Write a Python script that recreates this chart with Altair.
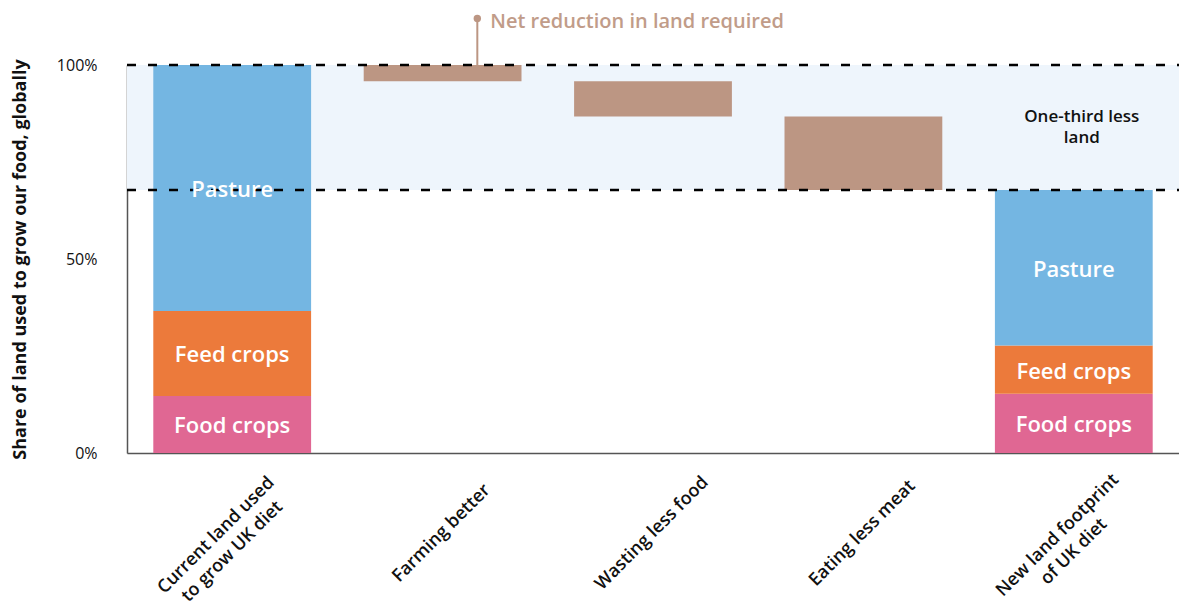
import altair as alt
import pandas as pd

# ---- data ----
categories = ["Current land used|to grow UK diet", "Farming better",
              "Wasting less food", "Eating less meat", "New land footprint|of UK diet"]
segments = ["Food crops", "Feed crops", "Pasture"]
current_shares = [14.7, 21.9, 63.4]
new_shares = [15.3, 12.4, 40.1]
reduction_steps = ["Farming better", "Wasting less food", "Eating less meat"]
reductions = [4.2, 9.1, 18.9]
y_ticks = [0, 50, 100]
annotation_text = "Net reduction in land required"
band_text = "One-third less|land"

seg_colors = ["#E06793", "#EC7A3B", "#74B6E2"]
reduction_color = "#BC9683"
band_color = "#EEF5FC"
FONT = "Open Sans"

rows = []


def stack(cat, shares):
    base = 0.0
    for s, v in zip(segments, shares):
        rows.append(dict(cat=cat, series=s, start=base, end=base + v, label=s))
        base += v
    return base


total_now = stack(categories[0], current_shares)
level = total_now
for cat, r in zip(reduction_steps, reductions):
    rows.append(dict(cat=cat, series="Reduction", start=level - r, end=level, label=""))
    level -= r
total_new = stack(categories[4], new_shares)
df = pd.DataFrame(rows)
df["mid"] = (df["start"] + df["end"]) / 2

band_df = pd.DataFrame({"low": [total_new], "high": [total_now]})
lines_df = pd.DataFrame({"v": [total_now, total_new]})
annot_df = pd.DataFrame({"cat": ["Farming better"], "y_base": [total_now],
                         "y_top": [112.0], "text": [annotation_text]})
band_label_df = pd.DataFrame({"cat": [categories[4]],
                              "y": [(total_now + total_new) / 2], "text": [band_text]})

xscale = alt.Scale(domain=categories, paddingInner=0.25, paddingOuter=0.125)
yscale = alt.Scale(domain=[0, 100], nice=False, zero=True)

two_line = "indexof(datum.value, '|') >= 0"
x_axis = alt.Axis(title=None, labelAngle=-45, labelAlign="center", labelBaseline="middle",
                  labelPadding={"condition": {"test": two_line, "value": 82}, "value": 80},
                  labelOffset={"condition": {"test": two_line, "value": -16}, "value": -1},
                  labelExpr="split(datum.label, '|')", labelFontSize=18,
                  labelFontWeight=600, labelLineHeight=23, ticks=False, tickSize=0,
                  domainColor="#555555", domainWidth=1.5, labelColor="#111111",
                  labelFont=FONT, labelLimit=300, grid=False)
Y_TITLE = "Share of land used to grow our food, globally"
y_axis = alt.Axis(values=y_ticks, labelExpr="datum.value + '%'", ticks=False, tickSize=0,
                  grid=False, labelPadding=30, labelFontSize=16, labelColor="#111111",
                  labelFont=FONT, domainColor="#555555", domainWidth=1.5,
                  title=Y_TITLE,
                  titleFontSize=18, titleFontWeight="bold", titleColor="#111111",
                  titleFont=FONT, titlePadding=27)


def X(**kw):
    return alt.X("cat:N", sort=categories, scale=xscale, axis=x_axis, **kw)


def Y(field):
    return alt.Y(field, scale=yscale, axis=y_axis, title=Y_TITLE)


band = alt.Chart(band_df).mark_rect(color=band_color).encode(
    y=Y("low:Q"), y2="high:Q",
    x=alt.value(0), x2=alt.value("width"))

bars = alt.Chart(df).mark_bar().encode(
    x=X(),
    y=Y("start:Q"), y2="end:Q",
    color=alt.Color("series:N", scale=alt.Scale(domain=segments + ["Reduction"],
                                                range=seg_colors + [reduction_color]),
                    legend=None))

dashes = alt.Chart(lines_df).mark_rule(strokeDash=[9, 12], strokeWidth=2.5, color="#000000").encode(
    y=Y("v:Q"), x=alt.value(0), x2=alt.value("width"))

bar_labels = alt.Chart(df[df["label"] != ""]).mark_text(
    color="white", fontSize=22, fontWeight=600, font=FONT, baseline="middle", dy=2).encode(
    x=X(), y=Y("mid:Q"), text="label:N")

annot_rule = alt.Chart(annot_df).mark_rule(color=reduction_color, strokeWidth=2).encode(
    x=X(bandPosition=0.72), y=Y("y_base:Q"), y2="y_top:Q")
annot_dot = alt.Chart(annot_df).mark_circle(color=reduction_color, size=55, opacity=1).encode(
    x=X(bandPosition=0.72), y=Y("y_top:Q"))
annot_text = alt.Chart(annot_df).mark_text(
    align="left", baseline="middle", dx=13, dy=4, fontSize=20, fontWeight=600, font=FONT,
    color="#C19C89").encode(
    x=X(bandPosition=0.72), y=Y("y_top:Q"), text="text:N")

band_label = alt.Chart(band_label_df).mark_text(
    lineBreak="|", lineHeight=21, fontSize=17, fontWeight=600, font=FONT,
    color="#111111", dx=8, dy=-10, baseline="middle").encode(
    x=X(), y=Y("y:Q"), text="text:N")

chart = alt.layer(band, bars, dashes, bar_labels, annot_rule, annot_dot, annot_text,
                  band_label).properties(
    width=1052, height=388,
    autosize=alt.AutoSizeParams(type="none"),
    padding={"left": 119, "top": 57, "right": 0, "bottom": 153},
).configure_view(stroke=None).configure(font=FONT)

chart.save("out.html", embed_options={"renderer": "svg", "actions": False})
